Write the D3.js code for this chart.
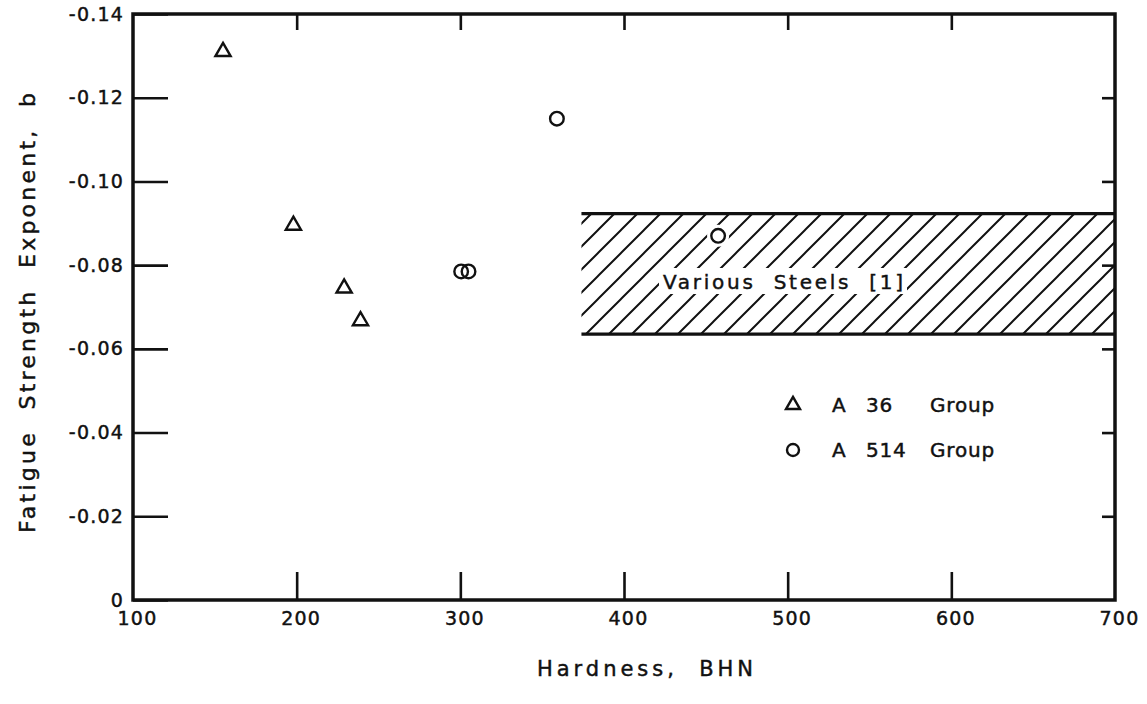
<!DOCTYPE html>
<html>
<head>
<meta charset="utf-8">
<script src="https://cdn.jsdelivr.net/npm/d3@7"></script>
<style>
  html, body { margin: 0; padding: 0; background: #fff; }
  svg { display: block; }
  text { font-family: "DejaVu Sans", sans-serif; fill: #111; stroke: #111; stroke-width: 0.45px; }
</style>
</head>
<body>
<svg id="chart" width="1147" height="704"></svg>
<script>
// ---- data ----
const a36Hardness = [155, 198, 229, 239];
const a36Exponent = [-0.131, -0.0895, -0.0745, -0.0667];
const a514Hardness = [359, 300.5, 305, 457.5];
const a514Exponent = [-0.115, -0.0785, -0.0785, -0.087];
const bandHardness = [374, 700];
const bandExponent = [-0.0923, -0.0635];
const bandLabel = "Various  Steels  [1]";
const xTicks = [100, 200, 300, 400, 500, 600, 700];
const xTickLabels = ["100", "200", "300", "400", "500", "600", "700"];
const yTicks = [0, -0.02, -0.04, -0.06, -0.08, -0.10, -0.12, -0.14];
const yTickLabels = ["0", "-0.02", "-0.04", "-0.06", "-0.08", "-0.10", "-0.12", "-0.14"];
const legendSeries = ["A 36 Group", "A 514 Group"];
const xTitle = "Hardness,  BHN";
const yTitle = "Fatigue  Strength  Exponent,  b";

// ---- layout ----
const L = 133, R = 1115, T = 14, B = 600;
const svg = d3.select("#chart");
const x = d3.scaleLinear().domain([100, 700]).range([L, R]);
const y = d3.scaleLinear().domain([0, -0.14]).range([B, T]);

// hatch pattern
const defs = svg.append("defs");
const s = 23;
const pat = defs.append("pattern").attr("id", "hatch")
  .attr("patternUnits", "userSpaceOnUse").attr("width", s).attr("height", s);
pat.append("path")
  .attr("d", `M0,${s} L${s},0 M${-s/2},${s/2} L${s/2},${-s/2} M${s/2},${s*1.5} L${s*1.5},${s/2}`)
  .attr("stroke", "#111").attr("stroke-width", 2);

// band
const band = svg.append("g");
band.append("rect")
  .attr("x", x(bandHardness[0])).attr("width", x(bandHardness[1]) - x(bandHardness[0]))
  .attr("y", y(bandExponent[0])).attr("height", y(bandExponent[1]) - y(bandExponent[0]))
  .attr("fill", "url(#hatch)");
[bandExponent[0], bandExponent[1]].forEach(v => {
  band.append("line")
    .attr("x1", x(bandHardness[0])).attr("x2", x(bandHardness[1]))
    .attr("y1", y(v)).attr("y2", y(v))
    .attr("stroke", "#111").attr("stroke-width", 3.2);
});
// label with white backing
const labelG = band.append("g");
const bandText = labelG.append("text")
  .attr("x", 663).attr("y", 289)
  .attr("font-size", 20)
  .attr("textLength", 240).attr("lengthAdjust", "spacing")
  .attr("xml:space", "preserve")
  .text(bandLabel);
const bb = bandText.node().getBBox();
labelG.insert("rect", "text")
  .attr("x", bb.x - 4).attr("y", bb.y - 2)
  .attr("width", bb.width + 8).attr("height", bb.height + 2)
  .attr("fill", "#fff");

// frame
svg.append("rect").attr("x", L).attr("y", T).attr("width", R - L).attr("height", B - T)
  .attr("fill", "none").attr("stroke", "#111").attr("stroke-width", 3.5);

// axes
const axisStyle = g => {
  g.select(".domain").remove();
  g.selectAll(".tick line").attr("stroke", "#111").attr("stroke-width", 2.6);
  g.selectAll(".tick text").attr("fill", "#111")
    .attr("font-family", "DejaVu Sans, sans-serif").attr("font-size", 19)
    .attr("letter-spacing", 1.2);
};
svg.append("g").attr("transform", `translate(${L},0)`)
  .call(d3.axisLeft(y).tickValues(yTicks).tickSize(-35).tickPadding(9)
    .tickFormat((d, i) => yTickLabels[i]))
  .call(axisStyle);
svg.append("g").attr("transform", `translate(${R},0)`)
  .call(d3.axisRight(y).tickValues(yTicks.slice(1, -1)).tickSize(-13).tickFormat(""))
  .call(axisStyle);
svg.append("g").attr("transform", `translate(0,${B})`)
  .call(d3.axisBottom(x).tickValues(xTicks).tickSize(-28).tickPadding(9)
    .tickFormat((d, i) => xTickLabels[i]))
  .call(axisStyle)
  .call(g => g.selectAll(".tick text").attr("dx", 4).attr("dy", "0.85em"))
  .call(g => g.selectAll(".tick line").filter(d => d === 100 || d === 700).remove());
svg.append("g").attr("transform", `translate(0,${T})`)
  .call(d3.axisTop(x).tickValues(xTicks.slice(1, -1)).tickSize(-16).tickFormat(""))
  .call(axisStyle);

// markers
const tri = d3.symbol().type(d3.symbolTriangle).size(100);
svg.append("g").selectAll("path").data(a36Hardness).join("path")
  .attr("transform", (d, i) => `translate(${x(d)},${y(a36Exponent[i])})`)
  .attr("d", tri).attr("fill", "#fff").attr("stroke", "#111").attr("stroke-width", 2.4);
const cg = svg.append("g");
cg.selectAll("circle.halo").data(a514Hardness).join("circle").attr("class", "halo")
  .attr("cx", d => x(d)).attr("cy", (d, i) => y(a514Exponent[i])).attr("r", 11)
  .attr("fill", "#fff");
cg.selectAll("circle.m").data(a514Hardness).join("circle").attr("class", "m")
  .attr("cx", d => x(d)).attr("cy", (d, i) => y(a514Exponent[i])).attr("r", 6.8)
  .attr("fill", "none").attr("stroke", "#111").attr("stroke-width", 2.4);

// legend
const lg = svg.append("g");
legendSeries.forEach((name, i) => {
  const cy = 405 + i * 45;
  if (i === 0) {
    lg.append("path").attr("transform", `translate(793,${cy})`)
      .attr("d", d3.symbol().type(d3.symbolTriangle).size(85))
      .attr("fill", "none").attr("stroke", "#111").attr("stroke-width", 2.4);
  } else {
    lg.append("circle").attr("cx", 793).attr("cy", cy).attr("r", 6)
      .attr("fill", "none").attr("stroke", "#111").attr("stroke-width", 2.4);
  }
  const parts = name.split(" ");
  const px = [832, 866, 930];
  parts.forEach((p, j) => {
    lg.append("text").attr("x", px[j]).attr("y", cy + 7)
      .attr("font-size", 20).attr("letter-spacing", 0.8).text(p);
  });
});

// titles
svg.append("text").attr("x", 645).attr("y", 676).attr("text-anchor", "middle")
  .attr("font-size", 21).attr("textLength", 216).attr("lengthAdjust", "spacing")
  .attr("xml:space", "preserve").text(xTitle);
svg.append("text").attr("transform", "translate(35,313) rotate(-90)")
  .attr("text-anchor", "middle")
  .attr("font-size", 22).attr("textLength", 440).attr("lengthAdjust", "spacing")
  .attr("xml:space", "preserve").text(yTitle);
</script>
</body>
</html>
